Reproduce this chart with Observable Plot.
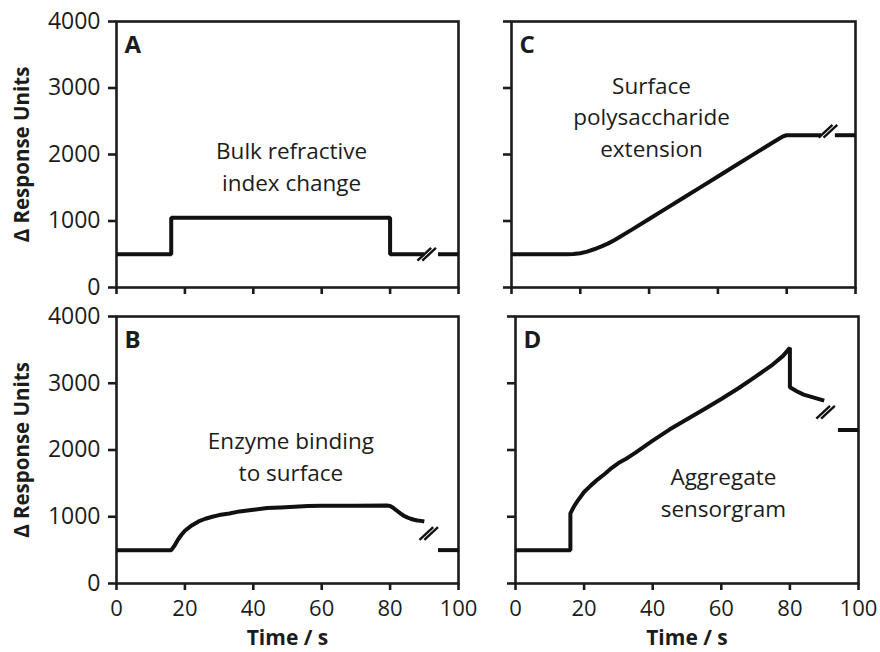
<!DOCTYPE html>
<html><head><meta charset="utf-8">
<script src="https://cdn.jsdelivr.net/npm/d3@7"></script>
<script src="https://cdn.jsdelivr.net/npm/@observablehq/plot@0.6"></script>
<style>
body{margin:0;background:#fff;}
#wrap{position:relative;width:880px;height:652px;overflow:hidden;background:#fff;}
#wrap > div, #wrap > svg{position:absolute;}
</style></head><body><div id="wrap"></div>
<script>
// ---- tick labels & titles ----
const xTicks = [0, 20, 40, 60, 80, 100];
const yTicks = [0, 1000, 2000, 3000, 4000];
const yTitle = "Δ Response Units";
const xTitle = "Time / s";

// ---- Panel A: bulk refractive index change ----
const timeA  = [0, 16, 16, 80, 80, 90];
const valueA = [500, 500, 1050, 1050, 500, 500];
const tailTimeA  = [94, 100];
const tailValueA = [500, 500];
const breakA = [90.7, 500];
const noteA = "Bulk refractive\nindex change";

// ---- Panel B: enzyme binding ----
const timeB  = [0, 16, 17, 18, 19, 20, 22, 24, 26, 28, 30, 33, 36, 40, 44, 48, 52, 56, 60, 70, 79, 80, 81, 82, 83, 84, 85, 86, 87, 88, 89, 90];
const valueB = [500, 500, 570, 660, 730, 790, 870, 930, 970, 1000, 1025, 1050, 1080, 1105, 1130, 1140, 1150, 1160, 1165, 1165, 1168, 1160, 1130, 1090, 1050, 1015, 990, 970, 955, 945, 938, 930];
const tailTimeB  = [94, 100];
const tailValueB = [500, 500];
const breakB = [91.3, 750];
const noteB = "Enzyme binding\nto surface";

// ---- Panel C: surface polysaccharide extension ----
const timeC  = [0, 16, 18, 20, 22, 24, 26, 28, 30, 35, 40, 45, 50, 55, 60, 65, 70, 75, 78, 79, 80, 90];
const valueC = [500, 500, 503, 515, 540, 575, 615, 660, 715, 870, 1030, 1190, 1350, 1510, 1670, 1830, 1990, 2150, 2245, 2275, 2290, 2290];
const tailTimeC  = [94, 100];
const tailValueC = [2290, 2290];
const breakC = [92.0, 2350];
const noteC = "Surface\npolysaccharide\nextension";

// ---- Panel D: aggregate sensorgram ----
const timeD  = [0, 16, 16, 17, 18, 20, 22, 24, 26, 28, 30, 32, 35, 40, 45, 50, 55, 60, 65, 70, 75, 78, 80, 80, 82, 84, 86, 88, 90];
const valueD = [500, 500, 1050, 1150, 1230, 1370, 1470, 1560, 1640, 1730, 1805, 1860, 1960, 2140, 2310, 2460, 2610, 2765, 2925, 3100, 3280, 3410, 3530, 2940, 2880, 2830, 2800, 2770, 2740];
const tailTimeD  = [94, 100];
const tailValueD = [2300, 2300];
const breakD = [90.4, 2566];
const noteD = "Aggregate\nsensorgram";

// ---- layout (positions only) ----
const panels = [
  {letter: "A", time: timeA, value: valueA, tailT: tailTimeA, tailV: tailValueA, brk: breakA, note: noteA, noteAt: [51.2, 1850],
   left: 0, top: 0, width: 470, height: 300, m: [21, 12, 13, 116], yLab: true, xLab: false},
  {letter: "C", time: timeC, value: valueC, tailT: tailTimeC, tailV: tailValueC, brk: breakC, note: noteC, noteAt: [40.7, 2590],
   left: 470, top: 0, width: 410, height: 300, m: [21, 25, 13, 41], yLab: false, xLab: false},
  {letter: "B", time: timeB, value: valueB, tailT: tailTimeB, tailV: tailValueB, brk: breakB, note: noteB, noteAt: [51, 1930],
   left: 0, top: 300, width: 470, height: 352, m: [16, 12, 69, 116], yLab: true, xLab: true},
  {letter: "D", time: timeD, value: valueD, tailT: tailTimeD, tailV: tailValueD, brk: breakD, note: noteD, noteAt: [60.6, 1390],
   left: 470, top: 300, width: 410, height: 352, m: [16, 22, 69, 45], yLab: false, xLab: true}
];

const ink = "#1c1c1c";
const font = "'Open Sans', sans-serif";
const wrap = document.getElementById("wrap");

for (const p of panels) {
  const rows = p.time.map((t, i) => ({t, v: p.value[i], seg: "main"}))
    .concat(p.tailT.map((t, i) => ({t, v: p.tailV[i], seg: "tail"})));
  const [bx, by] = p.brk;
  const strokes = [-0.7, 0.7].map(o => ({x1: bx + o - 2.0, y1: by - 95, x2: bx + o + 2.0, y2: by + 95}));

  const marks = [
    Plot.frame({stroke: ink, strokeWidth: 2.6}),
    p.yLab
      ? Plot.axisY(yTicks, {tickSize: 8, tickPadding: 8, fontSize: 23, strokeWidth: 2.6, stroke: ink, fill: ink, label: null, tickFormat: d3.format("d")})
      : Plot.axisY(yTicks, {tickSize: 8, strokeWidth: 2.6, stroke: ink, fill: "none", label: null}),
    p.xLab
      ? Plot.axisX(xTicks, {tickSize: 7, tickPadding: 10, fontSize: 22, strokeWidth: 2.6, stroke: ink, fill: ink, label: null, tickFormat: d3.format("d")})
      : Plot.axisX(xTicks, {tickSize: 7, strokeWidth: 2.6, stroke: ink, fill: "none", label: null}),
    Plot.line(rows, {x: "t", y: "v", z: "seg", stroke: "#111", strokeWidth: 4, strokeLinejoin: "miter", strokeLinecap: "butt"}),
    Plot.link(strokes, {x1: "x1", y1: "y1", x2: "x2", y2: "y2", stroke: "#111", strokeWidth: 2.4}),
    Plot.text([p.letter], {frameAnchor: "top-left", textAnchor: "start", lineAnchor: "top", dx: 8, dy: 14, fontSize: 24, fontWeight: "bold", fill: ink}),
    Plot.text([{x: p.noteAt[0], y: p.noteAt[1], s: p.note}], {x: "x", y: "y", text: "s", fontSize: 22.5, lineHeight: 1.42, fill: ink})
  ];
  if (p.yLab) marks.push(Plot.text([yTitle], {frameAnchor: "left", textAnchor: "middle", lineAnchor: "middle", rotate: -90, dx: -94, fontSize: 20.5, fontWeight: "bold", fill: ink}));
  if (p.xLab) marks.push(Plot.text([xTitle], {frameAnchor: "bottom", textAnchor: "middle", lineAnchor: "middle", dy: 55, fontSize: 21, fontWeight: "bold", fill: ink}));

  const chart = Plot.plot({
    width: p.width, height: p.height,
    marginTop: p.m[0], marginRight: p.m[1], marginBottom: p.m[2], marginLeft: p.m[3],
    x: {domain: [0, 100], label: null},
    y: {domain: [0, 4000], label: null},
    style: {fontFamily: font, color: ink, background: "transparent", overflow: "visible"},
    marks
  });
  chart.style.position = "absolute";
  chart.style.left = p.left + "px";
  chart.style.top = p.top + "px";
  wrap.appendChild(chart);
}
</script></body></html>
